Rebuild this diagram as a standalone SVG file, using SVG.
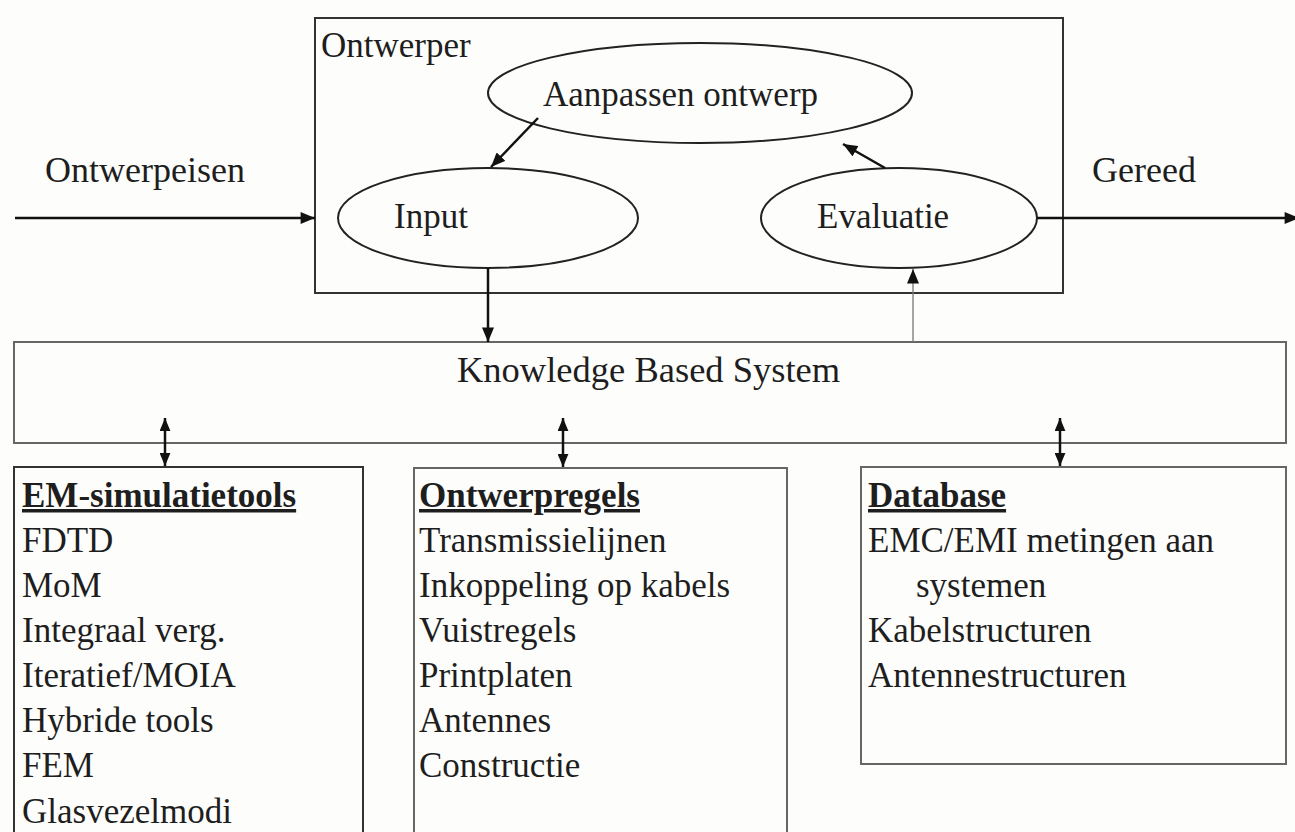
<svg xmlns="http://www.w3.org/2000/svg" width="1295" height="832" viewBox="0 0 1295 832">
<defs>
<marker id="ah" viewBox="0 0 12 10" refX="12" refY="5" markerWidth="15" markerHeight="12" markerUnits="userSpaceOnUse" orient="auto-start-reverse">
<path d="M0,0 L12,5 L0,10 Z" fill="#111"/>
</marker>
<marker id="ahs" viewBox="0 0 12 10" refX="12" refY="5" markerWidth="13" markerHeight="11" markerUnits="userSpaceOnUse" orient="auto-start-reverse">
<path d="M0,0 L12,5 L0,10 Z" fill="#111"/>
</marker>
</defs>
<style>
text{font-family:"Liberation Serif","Times New Roman",serif;font-size:35px;fill:#1e1e1e}
.b{font-weight:bold;text-decoration:underline}
.box{fill:none;stroke:#333;stroke-width:2}
.lbox{fill:none;stroke:#666;stroke-width:2}
.ell{fill:none;stroke:#222;stroke-width:2}
.con{fill:none;stroke:#111;stroke-width:2.5}
.thin{fill:none;stroke:#777;stroke-width:1.3}
</style>
<rect width="1295" height="832" fill="#fdfdfb"/>
<g id="ontwerper">
<rect class="box" x="315" y="18" width="748" height="275"/>
<text x="321" y="57">Ontwerper</text>
</g>
<g id="aanpassen">
<ellipse class="ell" cx="700" cy="93" rx="212" ry="50"/>
<text x="543" y="106">Aanpassen ontwerp</text>
</g>
<g id="input">
<ellipse class="ell" cx="488" cy="218" rx="150" ry="50"/>
<text x="394" y="228">Input</text>
</g>
<g id="evaluatie">
<ellipse class="ell" cx="899" cy="218" rx="138" ry="50"/>
<text x="817" y="228">Evaluatie</text>
</g>
<g id="ontwerpeisen">
<text x="45" y="182" style="font-size:36px">Ontwerpeisen</text>
</g>
<g id="gereed">
<text x="1092" y="182" style="font-size:36px">Gereed</text>
</g>
<g id="kbs">
<rect class="lbox" x="14" y="342" width="1272" height="101"/>
<text x="457" y="382" style="font-size:36.5px">Knowledge Based System</text>
</g>
<g id="em">
<rect class="box" x="14" y="467" width="349" height="380"/>
<text class="b" x="22" y="507">EM-simulatietools</text>
<text x="22" y="552">FDTD</text>
<text x="22" y="597">MoM</text>
<text x="22" y="642">Integraal verg.</text>
<text x="22" y="687">Iteratief/MOIA</text>
<text x="22" y="732">Hybride tools</text>
<text x="22" y="777">FEM</text>
<text x="22" y="823">Glasvezelmodi</text>
</g>
<g id="ontwerpregels">
<rect class="lbox" x="414" y="468" width="373" height="380"/>
<text class="b" x="419" y="507">Ontwerpregels</text>
<text x="419" y="552">Transmissielijnen</text>
<text x="419" y="597">Inkoppeling op kabels</text>
<text x="419" y="642">Vuistregels</text>
<text x="419" y="687">Printplaten</text>
<text x="419" y="732">Antennes</text>
<text x="419" y="777">Constructie</text>
</g>
<g id="database">
<rect class="lbox" x="861" y="467" width="425" height="297"/>
<text class="b" x="868" y="507">Database</text>
<text x="868" y="552">EMC/EMI metingen aan</text>
<text x="916" y="597">systemen</text>
<text x="868" y="642">Kabelstructuren</text>
<text x="868" y="687">Antennestructuren</text>
</g>
<g id="connectors">
<line class="con" x1="15" y1="218" x2="315" y2="218" marker-end="url(#ah)"/>
<line class="con" x1="1037" y1="218" x2="1299" y2="218" marker-end="url(#ah)"/>
<line class="con" x1="538" y1="118" x2="491" y2="167" marker-end="url(#ah)"/>
<line class="con" x1="885" y1="168" x2="843" y2="144" marker-end="url(#ah)"/>
<line class="con" x1="488" y1="268" x2="488" y2="342" marker-end="url(#ah)"/>
<line class="thin" x1="913" y1="342" x2="913" y2="269" marker-end="url(#ah)"/>
<line class="con" x1="165" y1="418" x2="165" y2="466" marker-start="url(#ahs)" marker-end="url(#ahs)"/>
<line class="con" x1="563" y1="418" x2="563" y2="467" marker-start="url(#ahs)" marker-end="url(#ahs)"/>
<line class="con" x1="1060" y1="418" x2="1060" y2="466" marker-start="url(#ahs)" marker-end="url(#ahs)"/>
</g>
</svg>
